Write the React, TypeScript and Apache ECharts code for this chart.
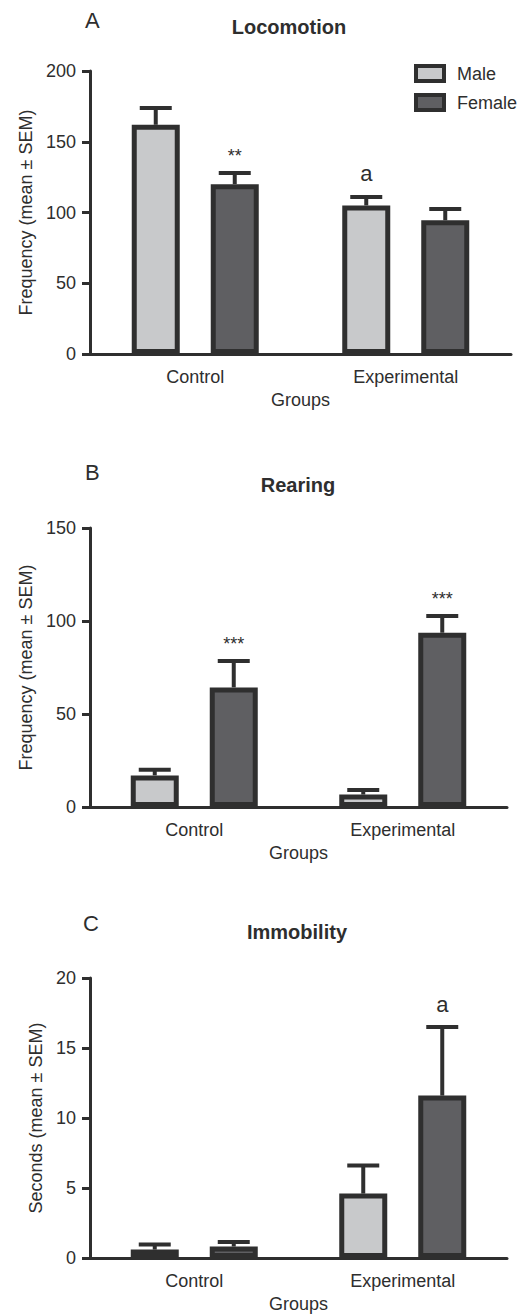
import React, { useEffect, useRef } from "react";
import * as echarts from "echarts";

const categories = ["Control", "Experimental"];
const sexes = ["Male", "Female"];

const locomotionMale = [162, 105];
const locomotionMaleSem = [11.8, 6];
const locomotionFemale = [120, 94.5];
const locomotionFemaleSem = [7.9, 8];

const rearingMale = [17, 6.7];
const rearingMaleSem = [3, 2.4];
const rearingFemale = [64.3, 93.7];
const rearingFemaleSem = [14.2, 9];

const immobilityMale = [0.6, 4.6];
const immobilityMaleSem = [0.37, 2.0];
const immobilityFemale = [0.82, 11.6];
const immobilityFemaleSem = [0.32, 4.9];

const yTicksLocomotion = { max: 200, interval: 50 };
const yTicksRearing = { max: 150, interval: 50 };
const yTicksImmobility = { max: 20, interval: 5 };

// [groupIndex, sexIndex, text]
const annotLocomotion: [number, number, string][] = [
  [0, 1, "**"],
  [1, 0, "a"],
];
const annotRearing: [number, number, string][] = [
  [0, 1, "***"],
  [1, 1, "***"],
];
const annotImmobility: [number, number, string][] = [[1, 1, "a"]];

const FONT = "'Liberation Sans', Arial, Helvetica, sans-serif";
const TXT = "#2e2e2e";
const EDGE = "#2f2f2f";
const LIGHT = "#c8c9cb";
const DARK = "#5f5f62";
const BAR_W = 48;
const BAR_CENTER_DIST = 79;

export default function App() {
  const ref = useRef<HTMLDivElement>(null);

  useEffect(() => {
    document.body.style.margin = "0";
    if (!ref.current) return;
    const chart = echarts.init(ref.current, null, { renderer: "svg" });

    const panels = [
      {
        male: locomotionMale, maleSem: locomotionMaleSem,
        female: locomotionFemale, femaleSem: locomotionFemaleSem,
        ticks: yTicksLocomotion, annots: annotLocomotion,
        yName: "Frequency (mean ± SEM)", nameGap: 55,
      },
      {
        male: rearingMale, maleSem: rearingMaleSem,
        female: rearingFemale, femaleSem: rearingFemaleSem,
        ticks: yTicksRearing, annots: annotRearing,
        yName: "Frequency (mean ± SEM)", nameGap: 55,
      },
      {
        male: immobilityMale, maleSem: immobilityMaleSem,
        female: immobilityFemale, femaleSem: immobilityFemaleSem,
        ticks: yTicksImmobility, annots: annotImmobility,
        yName: "Seconds (mean ± SEM)", nameGap: 40,
      },
    ];

    const grids = [
      { left: 90, top: 71, width: 421, height: 283 },
      { left: 90, top: 528, width: 417, height: 279 },
      { left: 90, top: 978, width: 417, height: 281 },
    ];

    const xAxes = panels.map((p, gi) => ({
      type: "category",
      gridIndex: gi,
      data: categories,
      name: "Groups",
      nameLocation: "middle",
      nameGap: 37,
      nameTextStyle: { fontFamily: FONT, fontSize: 18, color: TXT },
      axisLine: { lineStyle: { color: EDGE, width: 3 } },
      axisTick: { show: false },
      axisLabel: { fontFamily: FONT, fontSize: 18, color: TXT, margin: 14 },
    }));

    const yAxes = panels.map((p, gi) => ({
      type: "value",
      gridIndex: gi,
      min: 0,
      max: p.ticks.max,
      interval: p.ticks.interval,
      name: p.yName,
      nameLocation: "middle",
      nameGap: p.nameGap,
      nameTextStyle: { fontFamily: FONT, fontSize: 18, color: TXT },
      axisLine: { show: true, lineStyle: { color: EDGE, width: 3 } },
      axisTick: { show: true, length: 8, lineStyle: { color: EDGE, width: 3 } },
      axisLabel: { fontFamily: FONT, fontSize: 18, color: TXT, margin: 14 },
      splitLine: { show: false },
    }));

    const series: any[] = [];
    panels.forEach((p, gi) => {
      const groups = [
        { name: sexes[0], vals: p.male, sems: p.maleSem, color: LIGHT, sex: 0 },
        { name: sexes[1], vals: p.female, sems: p.femaleSem, color: DARK, sex: 1 },
      ];
      groups.forEach((g) => {
        series.push({
          type: "bar",
          name: g.name,
          xAxisIndex: gi,
          yAxisIndex: gi,
          data: g.vals,
          barWidth: BAR_W,
          barGap: ((BAR_CENTER_DIST - BAR_W) / BAR_W) * 100 + "%",
          itemStyle: { color: g.color, borderColor: EDGE, borderWidth: 5 },
          z: 3,
        });
      });
      groups.forEach((g) => {
        const offset = g.sex === 0 ? -BAR_CENTER_DIST / 2 : BAR_CENTER_DIST / 2;
        series.push({
          type: "custom",
          name: g.name,
          xAxisIndex: gi,
          yAxisIndex: gi,
          data: g.vals.map((v, i) => [i, v, g.sems[i]]),
          z: 2,
          renderItem: (params: any, api: any) => {
            const i = api.value(0);
            const m = api.value(1);
            const s = api.value(2);
            const base = api.coord([i, m]);
            const top = api.coord([i, m + s]);
            const x = base[0] + offset;
            const children: any[] = [
              {
                type: "line",
                shape: { x1: x, y1: base[1], x2: x, y2: top[1] },
                style: { stroke: EDGE, lineWidth: 4 },
              },
              {
                type: "line",
                shape: { x1: x - 16, y1: top[1], x2: x + 16, y2: top[1] },
                style: { stroke: EDGE, lineWidth: 4 },
              },
            ];
            p.annots.forEach((a) => {
              if (a[0] === params.dataIndex && a[1] === g.sex) {
                const isStar = a[2].indexOf("*") >= 0;
                children.push({
                  type: "text",
                  x: x,
                  y: top[1] - (isStar ? 17 : 23),
                  style: {
                    text: a[2],
                    fill: TXT,
                    font: (isStar ? "18px " : "22px ") + FONT,
                    textAlign: "center",
                    textVerticalAlign: "middle",
                  },
                });
              }
            });
            return { type: "group", children };
          },
        });
      });
    });

    const titleText = (text: string, x: number, y: number, bold: boolean, size: number, align: string) => ({
      type: "text",
      x,
      y,
      style: {
        text,
        fill: TXT,
        font: (bold ? "bold " : "") + size + "px " + FONT,
        textAlign: align,
        textVerticalAlign: "middle",
      },
    });

    chart.setOption({
      animation: false,
      backgroundColor: "#ffffff",
      grid: grids,
      xAxis: xAxes,
      yAxis: yAxes,
      legend: {
        data: sexes,
        orient: "vertical",
        left: 414,
        top: 64,
        padding: 0,
        itemWidth: 28,
        itemHeight: 15,
        itemGap: 10,
        icon: "rect",
        selectedMode: false,
        itemStyle: { borderColor: EDGE, borderWidth: 4 },
        textStyle: { fontFamily: FONT, fontSize: 18, color: TXT, padding: [0, 0, 0, 8] },
      },
      graphic: [
        titleText("A", 85, 20, false, 22, "left"),
        titleText("Locomotion", 289, 27, true, 20, "center"),
        titleText("B", 85, 472, false, 22, "left"),
        titleText("Rearing", 298, 485, true, 20, "center"),
        titleText("C", 83, 923, false, 22, "left"),
        titleText("Immobility", 297, 932, true, 20, "center"),
      ],
      series,
    });

    return () => chart.dispose();
  }, []);

  return <div ref={ref} style={{ width: 530, height: 1314 }} />;
}
